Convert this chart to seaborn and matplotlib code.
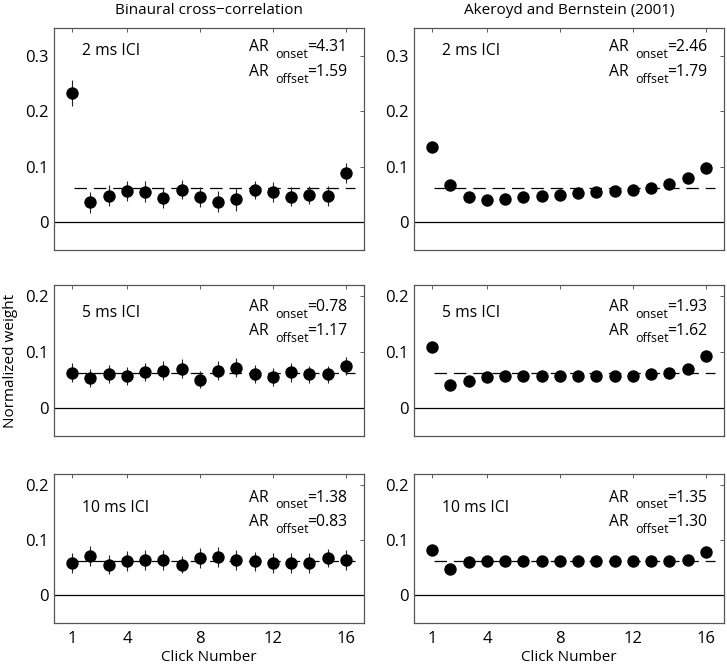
import numpy as np
import pandas as pd
import matplotlib
matplotlib.use("Agg")
import matplotlib.pyplot as plt
import seaborn as sns

clicks = list(range(1, 17))

# left column: binaural cross-correlation (mean weight and error)
bcc_2ms = [0.233, 0.036, 0.048, 0.057, 0.055, 0.044, 0.059, 0.046,
           0.037, 0.041, 0.058, 0.054, 0.046, 0.049, 0.047, 0.088]
bcc_2ms_err = [0.024, 0.019, 0.019, 0.018, 0.019, 0.018, 0.017, 0.018,
               0.019, 0.020, 0.017, 0.018, 0.017, 0.016, 0.018, 0.018]
bcc_5ms = [0.063, 0.054, 0.061, 0.057, 0.064, 0.067, 0.070, 0.051,
           0.067, 0.072, 0.061, 0.055, 0.064, 0.060, 0.060, 0.075]
bcc_5ms_err = [0.017, 0.016, 0.016, 0.016, 0.016, 0.017, 0.017, 0.015,
               0.017, 0.017, 0.016, 0.016, 0.017, 0.016, 0.016, 0.016]
bcc_10ms = [0.059, 0.071, 0.056, 0.062, 0.064, 0.064, 0.056, 0.068,
            0.070, 0.064, 0.062, 0.058, 0.059, 0.059, 0.068, 0.064]
bcc_10ms_err = [0.018, 0.018, 0.018, 0.018, 0.018, 0.018, 0.016, 0.018,
                0.018, 0.018, 0.017, 0.018, 0.018, 0.018, 0.016, 0.018]

# right column: Akeroyd and Bernstein (2001) model
ab_2ms = [0.136, 0.067, 0.045, 0.040, 0.042, 0.045, 0.048, 0.050,
          0.052, 0.054, 0.056, 0.059, 0.062, 0.069, 0.079, 0.098]
ab_5ms = [0.110, 0.042, 0.048, 0.055, 0.057, 0.057, 0.057, 0.057,
          0.057, 0.057, 0.057, 0.057, 0.060, 0.063, 0.069, 0.093]
ab_10ms = [0.082, 0.048, 0.061, 0.062, 0.062, 0.062, 0.062, 0.062,
           0.062, 0.062, 0.062, 0.062, 0.062, 0.062, 0.064, 0.078]

ici_labels = ["2 ms ICI", "5 ms ICI", "10 ms ICI"]
ar_onset = [["4.31", "0.78", "1.38"], ["2.46", "1.93", "1.35"]]
ar_offset = [["1.59", "1.17", "0.83"], ["1.79", "1.62", "1.30"]]
col_titles = ["Binaural cross\u2212correlation", "Akeroyd and Bernstein (2001)"]
x_ticks = [1, 4, 8, 12, 16]

sns.set_theme(style="white")
plt.rcParams['font.family'] = ['Open Sans', 'DejaVu Sans']
fs = 11

fig = plt.figure(figsize=(7.27, 6.66), dpi=100)
W, H = 727, 666
col_x = [54, 414]
col_w = 310
rows = [(28, 250, 0.35), (285, 436, 0.22), (474, 623, 0.22)]  # top px, bottom px, ymax
ici_dy = [19.5, 23.0, 27.5]
ar_dy = [(16.8, 34.8), (18.8, 36.2), (20.0, 37.6)]

data = [[(bcc_2ms, bcc_2ms_err), (bcc_5ms, bcc_5ms_err), (bcc_10ms, bcc_10ms_err)],
        [(ab_2ms, None), (ab_5ms, None), (ab_10ms, None)]]


def put(ax, s, dx, dy, size, x=1):
    ax.annotate(s, xy=(x, 1), xycoords='axes fraction', xytext=(dx, -dy),
                textcoords='offset points', ha='left', va='baseline',
                fontsize=size, color='black')


for c in range(2):
    for r in range(3):
        top, bot, ymax = rows[r]
        ax = fig.add_axes([col_x[c] / W, 1 - bot / H, col_w / W, (bot - top) / H])
        vals, errs = data[c][r]
        df = pd.DataFrame({'click': clicks, 'weight': vals})

        ax.axhline(0, color='black', lw=0.9, zorder=1)
        ax.hlines(1 / 16, 1.1, 16.5, color='black', lw=0.9,
                  linestyles=[(0, (10, 5.5))], zorder=1)
        if errs is not None:
            ax.errorbar(df['click'], df['weight'], yerr=errs, fmt='none',
                        ecolor='#222222', elinewidth=0.8, capsize=0, zorder=2)
        sns.scatterplot(data=df, x='click', y='weight', ax=ax, s=80,
                        color='black', edgecolor='black', linewidth=0, zorder=3)

        ax.set_xlim(0, 17)
        ax.set_ylim(-0.05, ymax)
        ax.set_xticks(x_ticks)
        yt = [0, 0.1, 0.2, 0.3] if r == 0 else [0, 0.1, 0.2]
        ax.set_yticks(yt)
        ax.set_yticklabels(['0' if v == 0 else f'{v:.1f}' for v in yt], fontsize=fs + 1)
        if r == 2:
            ax.set_xticklabels([str(t) for t in x_ticks], fontsize=fs + 1)
            ax.set_xlabel('Click Number', fontsize=fs, labelpad=2, color='black')
        else:
            ax.set_xticklabels([])
            ax.set_xlabel('')
        ax.set_ylabel('')
        ax.tick_params(direction='in', length=3, width=0.6, top=True, right=True,
                       colors='#444444', labelcolor='black')
        ax.tick_params(axis='x', pad=6)
        ax.tick_params(axis='y', pad=4)
        for sp in ax.spines.values():
            sp.set_color('#555555')
            sp.set_linewidth(0.9)

        put(ax, ici_labels[r], 20, ici_dy[r], fs + 0.3, x=0)
        for line, vals_ar, name in [(0, ar_onset, 'onset'), (1, ar_offset, 'offset')]:
            dy = ar_dy[r][line]
            put(ax, 'AR', -83.0, dy, fs + 0.3)
            put(ax, name, -64.0, dy + 4.8, fs - 2)
            put(ax, '=' + vals_ar[c][r], -41.0, dy, fs + 0.3)

        if r == 0:
            ax.set_title(col_titles[c], fontsize=fs, pad=10, color='black')
        if c == 0 and r == 1:
            ax.set_ylabel('Normalized weight', fontsize=fs, labelpad=5, color='black')

fig.savefig('out.png', dpi=100)
